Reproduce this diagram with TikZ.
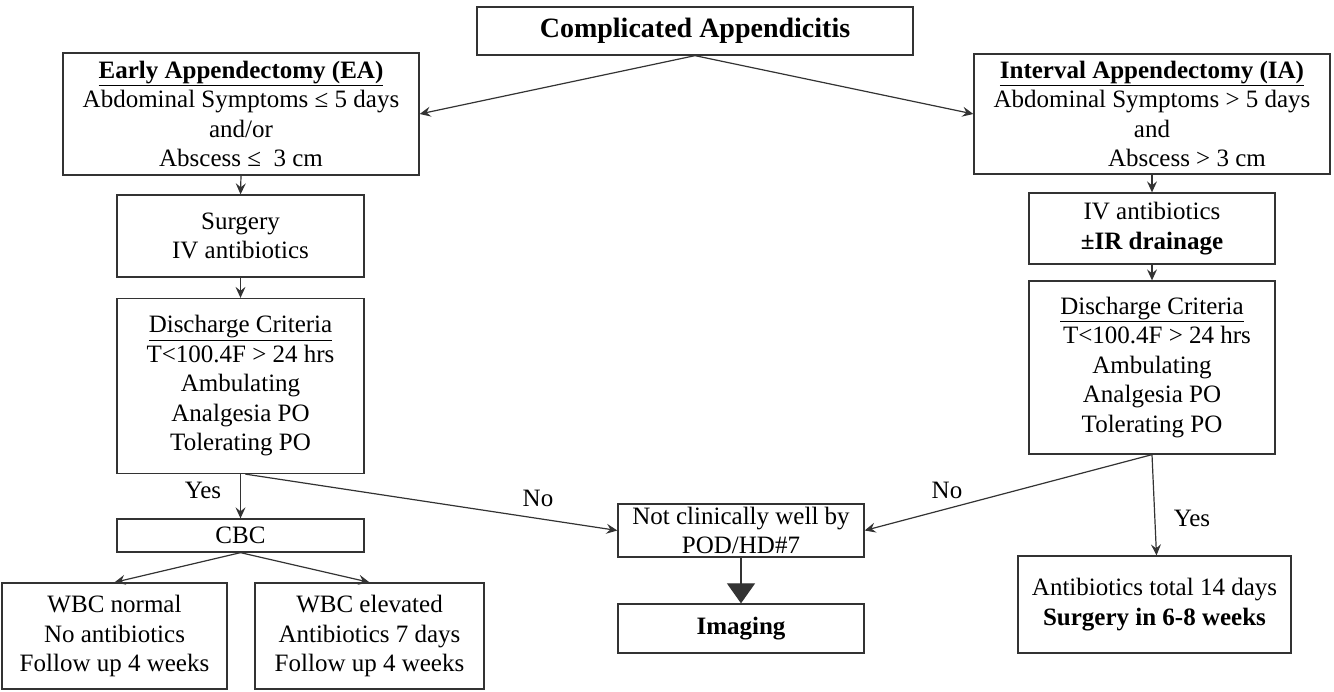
\documentclass[tikz,border=0pt]{standalone}
\usepackage{fontspec}
\setmainfont{Liberation Serif}
\usetikzlibrary{arrows.meta}
\begin{document}
\begin{tikzpicture}[x=1pt,y=-1pt,
  box/.style={draw=black!80, line width=1.3pt, align=center, inner sep=0pt, font=\fontsize{25}{29.5}\selectfont},
  conn/.style={draw=black!80, line width=1.2pt, -{Stealth[length=11pt,width=10pt,inset=4pt]}},
  lbl/.style={font=\fontsize{25}{28}\selectfont}
]
\useasboundingbox[fill=white] (0,0) rectangle (1334,692);
\node[box, minimum width=436pt, minimum height=48pt] (top) at (695,31) {\fontsize{28}{32}\selectfont\bfseries Complicated Appendicitis};
\node[box, minimum width=356pt, minimum height=122pt] (ea) at (241,114) {\textbf{\underline{Early Appendectomy (EA)}}\\Abdominal Symptoms ≤ 5 days\\and/or\\Abscess ≤\ \ 3 cm};
\node[box, minimum width=356pt, minimum height=120pt] (ia) at (1152,114) {\textbf{\underline{Interval Appendectomy (IA)}}\\Abdominal Symptoms > 5 days\\and\\\hspace*{70pt}Abscess > 3 cm};
\node[box, minimum width=247pt, minimum height=82pt] (surg) at (240.5,236) {Surgery\\IV antibiotics};
\node[box, minimum width=246pt, minimum height=71pt] (ivr) at (1152,228.5) {IV antibiotics\\\textbf{±IR drainage}};
\node[box, minimum width=247pt, minimum height=175pt] (disl) at (240.5,386) {\underline{Discharge Criteria}\\T<100.4F > 24 hrs\\Ambulating\\Analgesia PO\\Tolerating PO};
\node[box, minimum width=246pt, minimum height=173pt] (disr) at (1152,367.5) {\underline{Discharge Criteria}\\\hspace*{10pt}T<100.4F > 24 hrs\\Ambulating\\Analgesia PO\\Tolerating PO};
\node[box, minimum width=247pt, minimum height=33pt] (cbc) at (240.5,535.5) {CBC};
\node[box, minimum width=225pt, minimum height=106pt] (wbcn) at (114.5,636) {WBC normal\\No antibiotics\\Follow up 4 weeks};
\node[box, minimum width=229pt, minimum height=106pt] (wbce) at (369.5,636) {WBC elevated\\Antibiotics 7 days\\Follow up 4 weeks};
\node[box, minimum width=246pt, minimum height=53pt] (ncw) at (741,530.5) {Not clinically well by\\POD/HD\#7};
\node[box, minimum width=246pt, minimum height=49pt] (img) at (741,628.5) {\textbf{Imaging}};
\node[box, minimum width=273pt, minimum height=97pt] (abx) at (1154.5,604.5) {Antibiotics total 14 days\\\textbf{Surgery in 6-8 weeks}};

\draw[conn] (top.south) -- (ea.east);
\draw[conn] (top.south) -- (ia.west);
\draw[conn] (ea.south) -- (surg.north);
\draw[conn] (ia.south) -- (ivr.north);
\draw[conn] (surg.south) -- (disl.north);
\draw[conn] (ivr.south) -- (disr.north);
\draw[conn] (disl.south) -- (cbc.north);
\draw[conn] (cbc.south) -- (wbcn.north);
\draw[conn] (cbc.south) -- (wbce.north);
\draw[conn] ([xshift=5pt]disl.south) -- (ncw.west);
\draw[conn] (disr.south) -- (ncw.east);
\draw[conn] (disr.south) -- ([xshift=2pt]abx.north);
\draw[draw=black!80, line width=1.2pt, -{Triangle[length=20pt,width=28pt]}] (ncw.south) -- (img.north);

\node[lbl] (yesl) at (203,490) {Yes};
\node[lbl] (nol) at (538,498) {No};
\node[lbl] (nor) at (947,490) {No};
\node[lbl] (yesr) at (1192,518) {Yes};
\end{tikzpicture}
\end{document}
